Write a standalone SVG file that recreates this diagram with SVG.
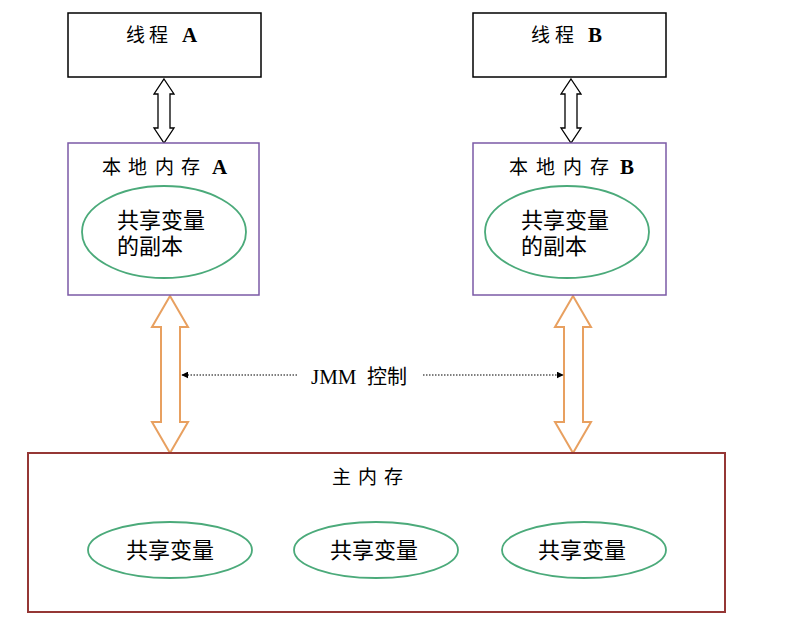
<svg xmlns="http://www.w3.org/2000/svg" width="803" height="643" viewBox="0 0 803 643">
<style>
.zh{font-family:"Noto Sans CJK SC","Noto Sans",sans-serif;fill:#000}
.lat{font-family:"Liberation Serif",serif;font-weight:bold;font-size:21px}
.thread{fill:#fff;stroke:#000;stroke-width:1.5}
.local{fill:#fff;stroke:#7B5AA6;stroke-width:1.5}
.main{fill:#fff;stroke:#953735;stroke-width:2}
.var{fill:#fff;stroke:#4BAA7A;stroke-width:1.8}
.blk{fill:#fff;stroke:#000;stroke-width:1.3}
.org{fill:#fff;stroke:#E8A060;stroke-width:2}
.dot{stroke:#555;stroke-width:1.5;stroke-dasharray:1.5 1.5;fill:none}
</style>
<defs>
<marker id="ah" viewBox="0 0 10 10" refX="9" refY="5" markerWidth="7" markerHeight="7" orient="auto-start-reverse" markerUnits="userSpaceOnUse">
<path d="M0,0 L10,5 L0,10 Z" fill="#000"/>
</marker>
</defs>
<g id="connectors">
<path class="blk" d="M164,79 L174,94 L170,94 L170,128 L174,128 L164,143 L154,128 L158,128 L158,94 L154,94 Z"/>
<path class="blk" d="M571,79 L581,94 L577,94 L577,128 L581,128 L571,143 L561,128 L565,128 L565,94 L561,94 Z"/>
<path class="org" d="M170,296 L188,327 L180,327 L180,422 L188,422 L170,453 L152,422 L161,422 L161,327 L152,327 Z"/>
<path class="org" d="M573,296 L591,327 L583,327 L583,422 L591,422 L573,453 L555,422 L564,422 L564,327 L555,327 Z"/>
<line class="dot" x1="297" y1="375" x2="182" y2="375" marker-end="url(#ah)"/>
<line class="dot" x1="423" y1="375" x2="563" y2="375" marker-end="url(#ah)"/>
<text x="311" y="384" font-size="21"><tspan font-family="Liberation Serif,serif">JMM</tspan><tspan class="zh" x="367" font-size="20">控制</tspan></text>
</g>
<g id="threadA">
<rect class="thread" x="68" y="13" width="193" height="64"/>
<text class="zh" y="42" font-size="19"><tspan x="126">线</tspan><tspan x="149">程</tspan><tspan class="lat" x="182">A</tspan></text>
</g>
<g id="threadB">
<rect class="thread" x="473" y="13" width="193" height="64"/>
<text class="zh" y="42" font-size="19"><tspan x="531">线</tspan><tspan x="555">程</tspan><tspan class="lat" x="588">B</tspan></text>
</g>
<g id="localA">
<rect class="local" x="68" y="143" width="191" height="152"/>
<text class="zh" y="174" font-size="19"><tspan x="102">本</tspan><tspan x="128">地</tspan><tspan x="155">内</tspan><tspan x="181">存</tspan><tspan class="lat" x="212">A</tspan></text>
<ellipse class="var" cx="164" cy="232" rx="82" ry="46"/>
<text class="zh" font-size="22"><tspan x="117" y="228">共享变量</tspan><tspan x="117" y="254">的副本</tspan></text>
</g>
<g id="localB">
<rect class="local" x="473" y="143" width="193" height="152"/>
<text class="zh" y="174" font-size="19"><tspan x="509">本</tspan><tspan x="536">地</tspan><tspan x="563">内</tspan><tspan x="590">存</tspan><tspan class="lat" x="620">B</tspan></text>
<ellipse class="var" cx="567" cy="232" rx="82" ry="46"/>
<text class="zh" font-size="22"><tspan x="521" y="228">共享变量</tspan><tspan x="521" y="254">的副本</tspan></text>
</g>
<g id="mainMemory">
<rect class="main" x="28" y="453" width="697" height="159"/>
<text class="zh" y="484" font-size="19"><tspan x="332">主</tspan><tspan x="358">内</tspan><tspan x="384">存</tspan></text>
</g>
<g id="var1">
<ellipse class="var" cx="170" cy="550" rx="82" ry="28"/>
<text class="zh" x="170" y="558" font-size="22" text-anchor="middle">共享变量</text>
</g>
<g id="var2">
<ellipse class="var" cx="376" cy="550" rx="82" ry="28"/>
<text class="zh" x="374" y="558" font-size="22" text-anchor="middle">共享变量</text>
</g>
<g id="var3">
<ellipse class="var" cx="584" cy="550" rx="82" ry="28"/>
<text class="zh" x="582" y="558" font-size="22" text-anchor="middle">共享变量</text>
</g>
</svg>
